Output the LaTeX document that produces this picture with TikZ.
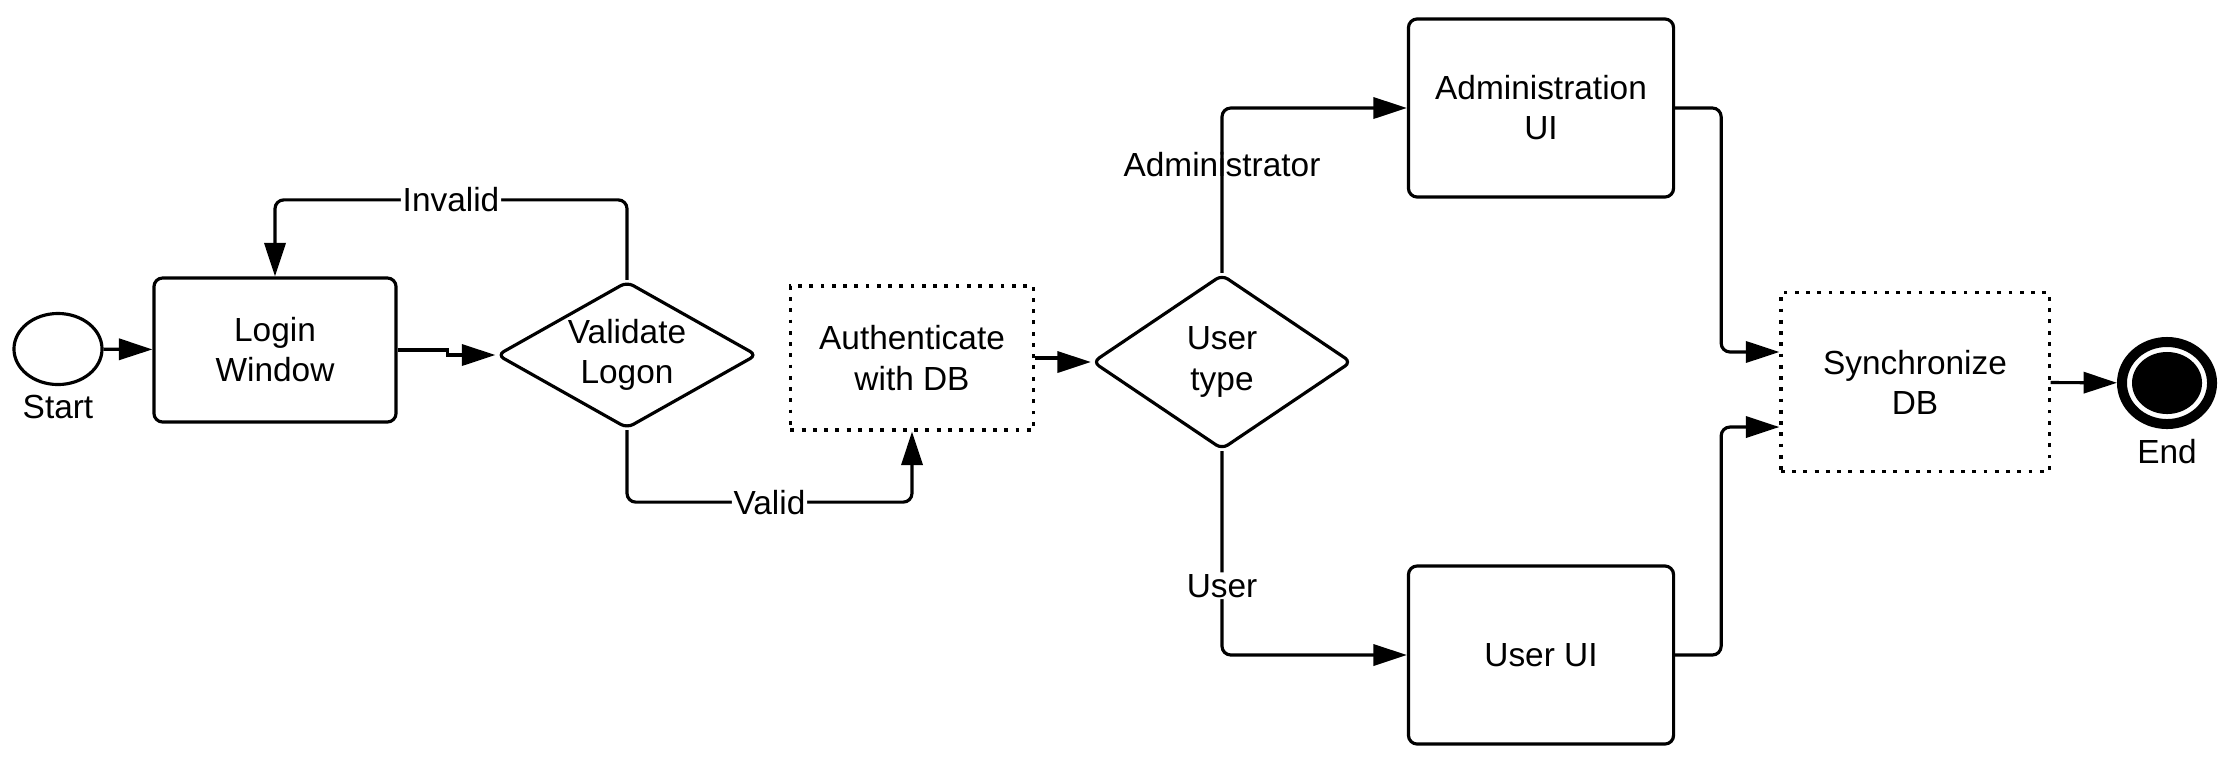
\documentclass[tikz,border=0pt]{standalone}
\usepackage{fontspec}
\setmainfont{Liberation Sans}
\usepackage{tikz}
\usetikzlibrary{shapes, arrows.meta}
\usetikzlibrary{positioning}
\tikzstyle{box} = [rectangle, rounded corners = 2.5pt,
  minimum width = 2.42cm, minimum height = 1.44cm, draw = black,
  text centered, align = center]
\tikzstyle{task} = [box, minimum width = 2.65cm, minimum height = 1.78cm]
\tikzstyle{dotbox} = [
  rectangle, dash pattern = on 1.1pt off 2.1pt,
  draw = black, text centered, align = center
]
\tikzstyle{decision} = [
  diamond, rounded corners = 2pt, inner sep = 0,
  draw = black, text centered, align = center
]
\tikzstyle{start} = [ellipse, draw = black, inner sep = 0,
  minimum width = 0.88cm, minimum height = 0.71cm]
\tikzstyle{finish} = [ellipse, draw = black, inner sep = 0, line width = 0.1cm,
  minimum width = 0.90cm, minimum height = 0.82cm]
\tikzstyle{lbl} = [fill = white, inner sep = 0.5pt]
\tikzstyle{flow} = [->, rounded corners = 2.5pt]

\begin{document}
\begin{tikzpicture}[x = 0.01cm, y = -0.01cm, line width = 0.9pt,
    >={Triangle[length = 9.5pt, width = 6pt]},
    font = \fontsize{9.5}{11.4}\selectfont]
      \useasboundingbox (0, 0) rectangle (2234, 766);
      \node [start] (start-evt) at (58, 349) {};
      \node [below = 2pt of start-evt, inner sep = 0] (start-txt) {Start};
      \node [box] (box-login) at (275, 350) {Login\\Window};
      \node [decision, shape aspect = 1.77, minimum width = 2.60cm,
        minimum height = 1.47cm] (dec-validate) at (627, 355) {Validate\\Logon};
      \node [dotbox, minimum width = 2.43cm, minimum height = 1.44cm]
        (box-auth) at (912, 358) {Authenticate\\with DB};
      \node [decision, shape aspect = 1.48, minimum width = 2.59cm,
        minimum height = 1.75cm] (dec-user) at (1222, 362) {User\\type};
      \node [task] (box-admin) at (1541, 108) {Administration\\UI};
      \node [task] (box-userui) at (1541, 655) {User UI};
      \node [dotbox, minimum width = 2.68cm, minimum height = 1.79cm]
        (box-sync) at (1915, 382) {Synchronize\\DB};
      \node [finish] (end-evt) at (2167, 383) {};
      \node [ellipse, fill = black, inner sep = 0, minimum width = 0.70cm,
        minimum height = 0.62cm] (end-dot) at (end-evt) {};
      \node [below = 2.5pt of end-evt, inner sep = 0] (end-txt) {End};

      \draw [->] (start-evt) -- (box-login);
      \draw [->] (box-login.east) -- ++(50, 0) |- (dec-validate.west);
      \draw [flow] (dec-validate.north) -- ++(0, -80) -|
        node [lbl, pos = 0.25] (lbl-invalid) {Invalid} (box-login.north);
      \draw [flow] (dec-validate.south) -- ++(0, 72) -|
        node [lbl, pos = 0.25] (lbl-valid) {Valid} (box-auth.south);
      \draw [->] (box-auth.east) -- ++(27, 0) |- (dec-user.west);
      \draw [flow] (dec-user.north) |-
        node [pos = 0.33] (lbl-admin) {Administrator} (box-admin.west);
      \draw [flow] (dec-user.south) |-
        node [lbl, pos = 0.33] (lbl-user) {User} (box-userui.west);
      \draw [flow] (box-admin.east) -- ++(46, 0) |-
        ([yshift = 0.3cm] box-sync.west);
      \draw [flow] (box-userui.east) -- ++(46, 0) |-
        ([yshift = -0.45cm] box-sync.west);
      \draw [->] (box-sync) -- (end-evt);
    \end{tikzpicture}
\end{document}
